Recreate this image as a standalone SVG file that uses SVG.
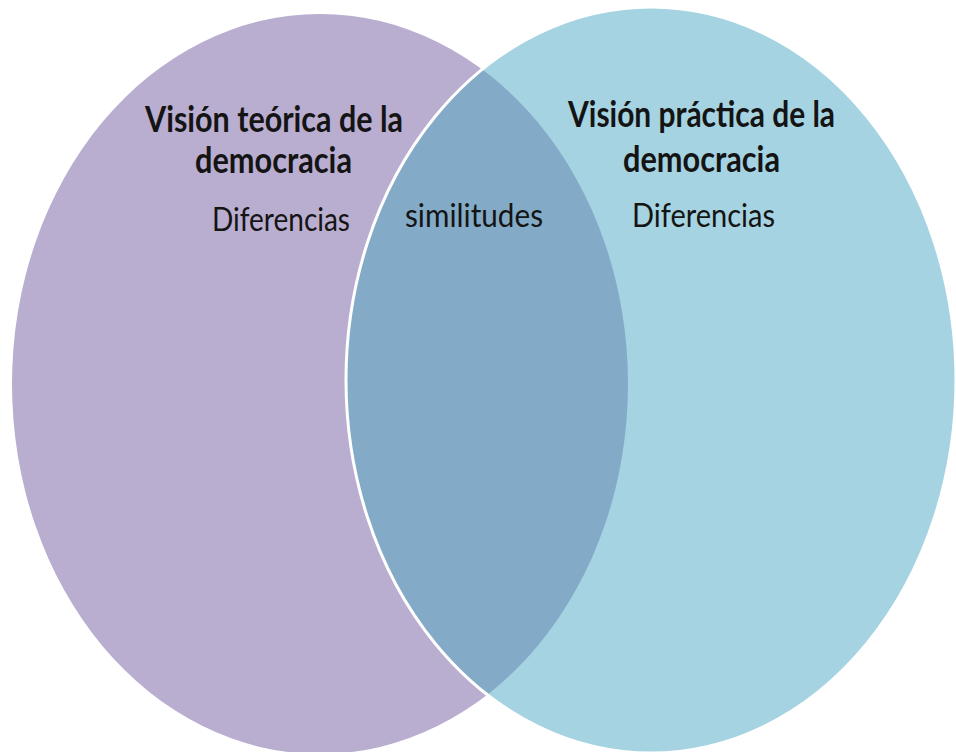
<svg xmlns="http://www.w3.org/2000/svg" width="956" height="752" viewBox="0 0 956 752">
  <style>
    text { font-family: Lato, "Open Sans", "Liberation Sans", sans-serif; fill: #141414; }
    .head { font-size: 36px; font-weight: 700; }
    .sub { font-size: 32px; }
  </style>
  <defs>
    <clipPath id="clipRight">
      <ellipse cx="651" cy="380" rx="305" ry="373"/>
    </clipPath>
  </defs>
  <rect width="956" height="752" fill="#ffffff"/>
  <g id="left-set">
    <ellipse cx="320" cy="384" rx="308" ry="370" fill="#b9add0"/>
  </g>
  <g id="right-set">
    <ellipse cx="651" cy="380" rx="305" ry="373" fill="#a5d3e1"/>
  </g>
  <g id="overlap">
    <ellipse cx="320" cy="384" rx="308" ry="370" fill="#83aac7" clip-path="url(#clipRight)"/>
    <ellipse cx="651" cy="380" rx="305" ry="373" fill="none" stroke="#ffffff" stroke-width="3"/>
  </g>
  <g id="labels-left">
    <text class="head" x="145" y="132" textLength="258" lengthAdjust="spacingAndGlyphs">Visión teórica de la</text>
    <text class="head" x="195" y="173" textLength="157" lengthAdjust="spacingAndGlyphs">democracia</text>
    <text class="sub" x="212" y="231" textLength="138" lengthAdjust="spacingAndGlyphs">Diferencias</text>
  </g>
  <g id="labels-overlap">
    <text class="sub" x="405" y="227" textLength="138" lengthAdjust="spacingAndGlyphs">similitudes</text>
  </g>
  <g id="labels-right">
    <text class="head" x="568" y="127" textLength="267" lengthAdjust="spacingAndGlyphs">Visión práctica de la</text>
    <text class="head" x="623" y="172" textLength="157" lengthAdjust="spacingAndGlyphs">democracia</text>
    <text class="sub" x="632" y="227" textLength="143" lengthAdjust="spacingAndGlyphs">Diferencias</text>
  </g>
</svg>
